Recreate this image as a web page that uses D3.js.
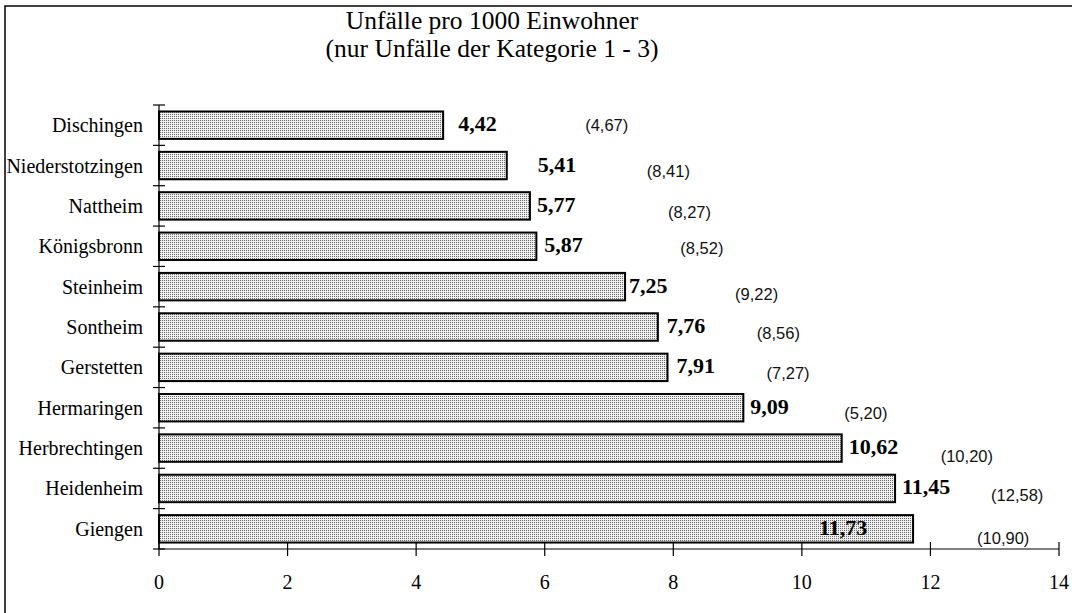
<!DOCTYPE html>
<html><head><meta charset="utf-8">
<script src="https://cdn.jsdelivr.net/npm/d3@7"></script>
<style>body{margin:0;background:#fff}svg{display:block}</style>
</head><body>
<svg id="c" width="1072" height="613"></svg>
<script>
// ---- data ----
const categories = ["Dischingen","Niederstotzingen","Nattheim","Königsbronn","Steinheim","Sontheim","Gerstetten","Hermaringen","Herbrechtingen","Heidenheim","Giengen"];
const values = [4.42,5.41,5.77,5.87,7.25,7.76,7.91,9.09,10.62,11.45,11.73];
const valueLabels = ["4,42","5,41","5,77","5,87","7,25","7,76","7,91","9,09","10,62","11,45","11,73"];
const previousLabels = ["(4,67)","(8,41)","(8,27)","(8,52)","(9,22)","(8,56)","(7,27)","(5,20)","(10,20)","(12,58)","(10,90)"];
const xTicks = [0,2,4,6,8,10,12,14];
const titleLines = ["Unfälle pro 1000 Einwohner","(nur Unfälle der Kategorie 1 - 3)"];

// ---- layout (label nudges, px relative to bar end / bar centre) ----
const valueDx = [15,31,7,8,4,9,9,7,7,7,-94];
const prevDx = [142,140,138,144,110,99,99,101,99,96,64];
const prevDy = [0,5,6,2,7,6,6,5,8,7,9];

const svg = d3.select("#c");
const serif = "'Liberation Serif','Times New Roman',serif";
const sans = "'Liberation Sans',Arial,sans-serif";

const defs = svg.append("defs");
const pat = defs.append("pattern").attr("id","dots").attr("patternUnits","userSpaceOnUse")
  .attr("width",2).attr("height",2);
pat.append("rect").attr("width",2).attr("height",2).attr("fill","#efefef");
pat.append("rect").attr("width",1).attr("height",1).attr("fill","#6a6a6a");

// frame
svg.append("rect").attr("x",5).attr("y",6).attr("width",1080).attr("height",620)
  .attr("fill","none").attr("stroke","#000").attr("stroke-width",1.5);

const x = d3.scaleLinear().domain([0,14]).range([159,1059]);
const y = d3.scaleBand().domain(categories).range([105,549]).paddingInner(0.32).paddingOuter(0.16);

// title
svg.append("g").selectAll("text").data(titleLines).join("text")
  .attr("x",492).attr("y",(d,i)=>29+i*28)
  .attr("text-anchor","middle").attr("font-family",serif).attr("font-size",25.5)
  .attr("fill","#000").text(d=>d);

// bars
svg.append("g").selectAll("rect").data(values).join("rect")
  .attr("x",x(0)).attr("y",(d,i)=>y(categories[i]))
  .attr("width",d=>x(d)-x(0)).attr("height",y.bandwidth())
  .attr("fill","url(#dots)").attr("stroke","#000").attr("stroke-width",2);

// x axis
const ax = svg.append("g");
ax.append("line").attr("x1",x(0)).attr("x2",x(14)).attr("y1",549).attr("y2",549)
  .attr("stroke","#000").attr("stroke-width",1.2);
ax.selectAll("line.t").data(xTicks).join("line").attr("class","t")
  .attr("x1",d=>x(d)).attr("x2",d=>x(d)).attr("y1",542).attr("y2",556)
  .attr("stroke","#000").attr("stroke-width",1.2);
ax.selectAll("text").data(xTicks).join("text")
  .attr("x",d=>x(d)).attr("y",589).attr("text-anchor","middle")
  .attr("font-family",serif).attr("font-size",20).attr("fill","#000").text(d=>d);

// y axis
const ay = svg.append("g");
ay.append("line").attr("x1",x(0)).attr("x2",x(0)).attr("y1",105).attr("y2",549)
  .attr("stroke","#000").attr("stroke-width",1.2);
const tickYs = d3.range(categories.length+1).map(i=>y.range()[0]+i*y.step());
ay.selectAll("line.t").data(tickYs).join("line").attr("class","t")
  .attr("x1",x(0)-6).attr("x2",x(0)+6).attr("y1",d=>d).attr("y2",d=>d)
  .attr("stroke","#000").attr("stroke-width",1.2);
ay.selectAll("text").data(categories).join("text")
  .attr("x",143).attr("y",d=>y(d)+y.bandwidth()/2+7).attr("text-anchor","end")
  .attr("font-family",serif).attr("font-size",20).attr("fill","#000").text(d=>d);

// value labels
svg.append("g").selectAll("text").data(values).join("text")
  .attr("x",(d,i)=>x(d)+valueDx[i]).attr("y",(d,i)=>y(categories[i])+y.bandwidth()/2+6)
  .attr("font-family",serif).attr("font-weight","bold").attr("font-size",22)
  .attr("fill","#000").text((d,i)=>valueLabels[i]);

// previous-year labels
svg.append("g").selectAll("text").data(previousLabels).join("text")
  .attr("x",(d,i)=>x(values[i])+prevDx[i]).attr("y",(d,i)=>y(categories[i])+y.bandwidth()/2+prevDy[i]+6)
  .attr("font-family",sans).attr("font-size",16.5)
  .attr("fill","#111").text(d=>d);
</script>
</body></html>
